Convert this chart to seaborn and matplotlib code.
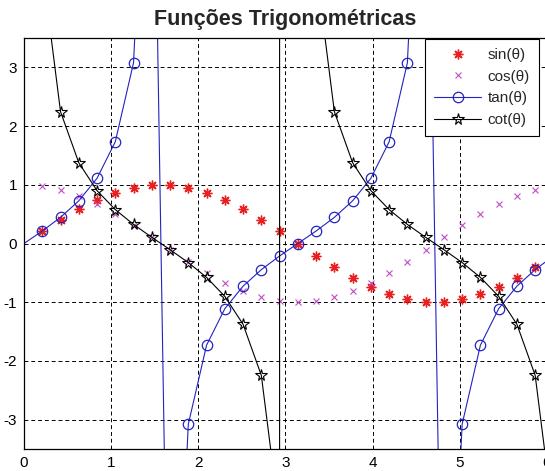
import matplotlib
matplotlib.use("Agg")
import matplotlib.pyplot as plt
import seaborn as sns
import pandas as pd

# Angle samples: k*pi/15, k = 0..30
theta = [0.0000, 0.2094, 0.4189, 0.6283, 0.8378, 1.0472, 1.2566, 1.4661,
         1.6755, 1.8850, 2.0944, 2.3038, 2.5133, 2.7227, 2.9322, 3.1416,
         3.3510, 3.5605, 3.7699, 3.9794, 4.1888, 4.3982, 4.6077, 4.8171,
         5.0265, 5.2360, 5.4454, 5.6549, 5.8643, 6.0737, 6.2832]

sin_vals = [0.0000, 0.2079, 0.4067, 0.5878, 0.7431, 0.8660, 0.9511, 0.9945,
            0.9945, 0.9511, 0.8660, 0.7431, 0.5878, 0.4067, 0.2079, 0.0000,
            -0.2079, -0.4067, -0.5878, -0.7431, -0.8660, -0.9511, -0.9945,
            -0.9945, -0.9511, -0.8660, -0.7431, -0.5878, -0.4067, -0.2079, 0.0000]

cos_vals = [1.0000, 0.9781, 0.9135, 0.8090, 0.6691, 0.5000, 0.3090, 0.1045,
            -0.1045, -0.3090, -0.5000, -0.6691, -0.8090, -0.9135, -0.9781, -1.0000,
            -0.9781, -0.9135, -0.8090, -0.6691, -0.5000, -0.3090, -0.1045,
            0.1045, 0.3090, 0.5000, 0.6691, 0.8090, 0.9135, 0.9781, 1.0000]

tan_vals = [0.0000, 0.2126, 0.4452, 0.7265, 1.1106, 1.7321, 3.0777, 9.5144,
            -9.5144, -3.0777, -1.7321, -1.1106, -0.7265, -0.4452, -0.2126, 0.0000,
            0.2126, 0.4452, 0.7265, 1.1106, 1.7321, 3.0777, 9.5144,
            -9.5144, -3.0777, -1.7321, -1.1106, -0.7265, -0.4452, -0.2126, 0.0000]

cot_vals = [float("nan"), 4.7046, 2.2460, 1.3764, 0.9004, 0.5774, 0.3249, 0.1051,
            -0.1051, -0.3249, -0.5774, -0.9004, -1.3764, -2.2460, -4.7046, 8.2e15,
            4.7046, 2.2460, 1.3764, 0.9004, 0.5774, 0.3249, 0.1051,
            -0.1051, -0.3249, -0.5774, -0.9004, -1.3764, -2.2460, -4.7046, -4.1e15]

labels = ["sin(θ)", "cos(θ)", "tan(θ)", "cot(θ)"]

df = pd.DataFrame({"theta": theta, "sin": sin_vals, "cos": cos_vals,
                   "tan": tan_vals, "cot": cot_vals})

sns.set_style("white")
plt.rcParams["font.family"] = ["Liberation Sans", "DejaVu Sans"]
plt.rcParams["axes.unicode_minus"] = False

RED = "#e82020"
MAGENTA = "#c24cc8"
BLUE = "#2323c0"

fig = plt.figure(figsize=(5.45, 4.71), dpi=100)
ax = fig.add_axes([24 / 545, 22 / 471, 523 / 545, 411 / 471])

pts = df.iloc[1:]
sns.lineplot(data=pts, x="theta", y="sin", ax=ax, sort=False, estimator=None,
             linestyle="none", marker=(8, 2, 0), markersize=7,
             markeredgewidth=1.0, markeredgecolor=RED, color=RED,
             label=labels[0])
sns.lineplot(data=pts, x="theta", y="cos", ax=ax, sort=False, estimator=None,
             linestyle="none", marker="x", markersize=4.5,
             markeredgewidth=0.8, markeredgecolor=MAGENTA, color=MAGENTA,
             label=labels[1])
sns.lineplot(data=df, x="theta", y="tan", ax=ax, sort=False, estimator=None,
             marker="o", markersize=7.5, markerfacecolor="none",
             markeredgecolor=BLUE, markeredgewidth=0.9, markevery=slice(1, None),
             linewidth=0.8, color=BLUE, label=labels[2])
sns.lineplot(data=df, x="theta", y="cot", ax=ax, sort=False, estimator=None,
             marker="*", markersize=8.5, markerfacecolor="none",
             markeredgecolor="black", markeredgewidth=0.8, markevery=slice(1, None),
             linewidth=0.8, color="black", label=labels[3])

ax.set_xlim(0, 6)
ax.set_ylim(-3.5, 3.5)
ax.set_xticks(range(0, 7))
ax.set_yticks(range(-3, 4))
ax.set_xlabel("")
ax.set_ylabel("")
ax.grid(True, color="black", linestyle=(0, (4, 3)), linewidth=0.7)
ax.set_axisbelow(True)
for s in ax.spines.values():
    s.set_color("black")
    s.set_linewidth(0.9)
ax.tick_params(direction="in", length=4, width=0.8, colors="black",
               labelsize=11, pad=5)

ax.set_title("Funções Trigonométricas", fontsize=15.5, fontweight="bold", pad=9)

handles, labs = ax.get_legend_handles_labels()
leg = ax.legend(handles, labs, loc="upper right",
                bbox_to_anchor=(539 / 545, 1 - 39 / 471),
                bbox_transform=fig.transFigure, fontsize=11, frameon=True,
                fancybox=False, framealpha=1, edgecolor="black",
                handlelength=3.1, handletextpad=0.4, labelspacing=0.5,
                borderpad=0.6, borderaxespad=0)
leg.get_frame().set_linewidth(0.8)

fig.savefig("out.png", dpi=100)
